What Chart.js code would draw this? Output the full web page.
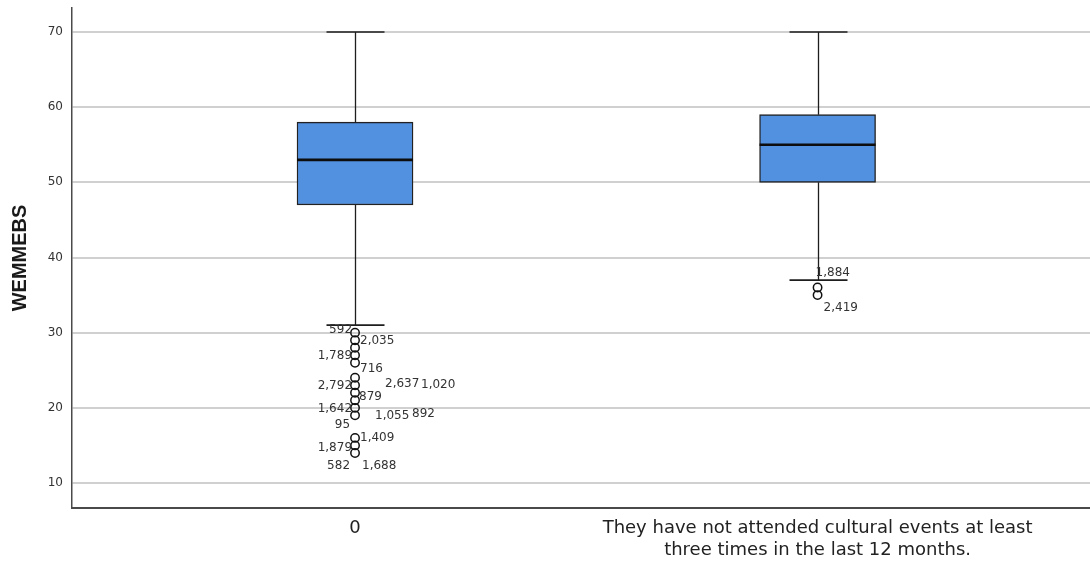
<!DOCTYPE html>
<html>
<head>
<meta charset="utf-8">
<script src="https://cdn.jsdelivr.net/npm/chart.js@4.4.1/dist/chart.umd.min.js"></script>
<style>
  html, body { margin: 0; padding: 0; background: #ffffff; }
  canvas { display: block; }
</style>
</head>
<body>
<canvas id="chart" width="1090" height="561"></canvas>
<script>
// Groups on the x axis (each entry is the label split into lines)
const categories = [
  ['0'],
  ['They have not attended cultural events at least', 'three times in the last 12 months.']
];

// Five-number summaries per group
const whiskerLow  = [31, 37];
const quartile1   = [47, 50];
const medians     = [53, 55];
const quartile3   = [58, 59];
const whiskerHigh = [70, 70];

// Y axis tick values
const yTicks = [10, 20, 30, 40, 50, 60, 70];

// Outlying cases drawn as circles
const outliers0 = [30, 29, 28, 27, 26, 24, 23, 22, 21, 20, 19, 16, 15, 14];
const outliers1 = [36, 35];

// Case numbers printed beside the outliers, with the value they belong to
const caseIds0    = ['592', '2,035', '1,789', '716', '2,792', '2,637', '1,020', '879',
                     '1,642', '1,055', '892', '95', '1,409', '1,879', '582', '1,688'];
const caseValues0 = [30, 29, 27, 26, 23, 23, 23, 22, 20, 19, 19, 19, 16, 15, 14, 14];
const caseIds1    = ['1,884', '2,419'];
const caseValues1 = [36, 35];

// Where each case number sits relative to its circle: [dx, dy, textAlign]
const labelPlacement0 = [
  [-3, -3, 'right'], [5, 1, 'left'], [-3, 1, 'right'], [5, 6, 'left'],
  [-3, 1, 'right'], [30, -1, 'left'], [66, 0, 'left'], [4, 4, 'left'],
  [-3, 1, 'right'], [20, 1, 'left'], [57, -1, 'left'], [-5, 10, 'right'],
  [5, 0, 'left'], [-3, 2, 'right'], [-5, 13, 'right'], [7, 13, 'left']
];
const labelPlacement1 = [[-2, -15, 'left'], [6, 13, 'left']];

const boxData = quartile1.map((q1, i) => ({ x: i, y: [q1, quartile3[i]] }));
const outlierData = [
  ...outliers0.map(v => ({ x: 0, y: v })),
  ...outliers1.map(v => ({ x: 1, y: v }))
];

// Whiskers, caps, medians and case labels, placed through the chart's scales
const boxDecorations = {
  id: 'boxDecorations',
  afterDatasetsDraw(chart) {
    const ctx = chart.ctx;
    const ys = chart.scales.y;
    const xs = chart.scales.x;
    const bars = chart.getDatasetMeta(0).data;
    ctx.save();
    bars.forEach((bar, i) => {
      const { x, width } = bar.getProps(['x', 'width'], true);
      const yLo = ys.getPixelForValue(whiskerLow[i]);
      const yQ1 = ys.getPixelForValue(quartile1[i]);
      const yQ3 = ys.getPixelForValue(quartile3[i]);
      const yHi = ys.getPixelForValue(whiskerHigh[i]);
      const yMed = ys.getPixelForValue(medians[i]);
      const cx = Math.round(x) + 0.5;

      // stems
      ctx.strokeStyle = '#1e1e1e';
      ctx.lineWidth = 1.3;
      ctx.beginPath();
      ctx.moveTo(cx, yQ3); ctx.lineTo(cx, yHi);
      ctx.moveTo(cx, yQ1); ctx.lineTo(cx, yLo);
      ctx.stroke();

      // caps
      const capHalf = width / 4;
      ctx.lineWidth = 1.7;
      ctx.beginPath();
      ctx.moveTo(cx - capHalf, yHi); ctx.lineTo(cx + capHalf, yHi);
      ctx.moveTo(cx - capHalf, yLo); ctx.lineTo(cx + capHalf, yLo);
      ctx.stroke();

      // median
      ctx.strokeStyle = '#0d0d0d';
      ctx.lineWidth = 2.7;
      ctx.beginPath();
      ctx.moveTo(x - width / 2, yMed); ctx.lineTo(x + width / 2, yMed);
      ctx.stroke();
    });

    // case numbers
    ctx.font = '12px "DejaVu Sans"';
    ctx.fillStyle = '#333333';
    ctx.textBaseline = 'middle';
    const drawCases = (group, ids, values, placement) => {
      const px = xs.getPixelForValue(group);
      ids.forEach((id, k) => {
        const [dx, dy, align] = placement[k];
        ctx.textAlign = align;
        ctx.fillText(id, px + dx, ys.getPixelForValue(values[k]) + dy);
      });
    };
    drawCases(0, caseIds0, caseValues0, labelPlacement0);
    drawCases(1, caseIds1, caseValues1, labelPlacement1);
    ctx.restore();
  }
};

new Chart(document.getElementById('chart'), {
  type: 'bar',
  data: {
    datasets: [
      {
        type: 'bar',
        data: boxData,
        backgroundColor: '#5290e0',
        borderColor: '#222222',
        borderWidth: 1.4,
        borderSkipped: false,
        barThickness: 116
      },
      {
        type: 'scatter',
        data: outlierData,
        pointStyle: 'circle',
        pointRadius: 4.2,
        pointBorderWidth: 1.5,
        pointBorderColor: '#111111',
        pointBackgroundColor: 'rgba(255,255,255,0)'
      }
    ]
  },
  options: {
    responsive: false,
    animation: false,
    devicePixelRatio: 1,
    layout: { autoPadding: false, padding: { top: 8, right: 0, bottom: 0, left: 0 } },
    plugins: { legend: { display: false }, tooltip: { enabled: false } },
    scales: {
      x: {
        type: 'linear',
        min: -0.6119,
        max: 1.589,
        offset: false,
        grid: { display: false, drawTicks: false },
        border: { display: true, color: '#4a4a4a', width: 2 },
        afterBuildTicks(scale) {
          scale.ticks = categories.map((_, i) => ({ value: i }));
        },
        afterFit(scale) {
          scale.height = 53;
          scale.paddingLeft = 0;
          scale.paddingRight = 0;
        },
        ticks: {
          autoSkip: false,
          maxRotation: 0,
          padding: 9,
          color: '#222222',
          font: { family: '"DejaVu Sans"', size: 18, lineHeight: 1.22 },
          callback: (value) => categories[value]
        }
      },
      y: {
        type: 'linear',
        min: 6.674,
        max: 73.193,
        grid: { color: '#d0d0d0', lineWidth: 2, drawTicks: false },
        border: { display: true, color: '#4a4a4a', width: 1.5 },
        afterBuildTicks(scale) {
          scale.ticks = yTicks.map(v => ({ value: v }));
        },
        afterFit(scale) {
          scale.width = 72;
          scale.paddingTop = 0;
          scale.paddingBottom = 0;
        },
        ticks: {
          padding: 9,
          color: '#333333',
          font: { family: '"DejaVu Sans"', size: 12 }
        },
        title: {
          display: true,
          text: 'WEMMEBS',
          color: '#1a1a1a',
          padding: { top: 8, bottom: 0 },
          font: { family: '"Liberation Sans"', size: 20, weight: 'bold' }
        }
      }
    }
  },
  plugins: [boxDecorations]
});
</script>
</body>
</html>
